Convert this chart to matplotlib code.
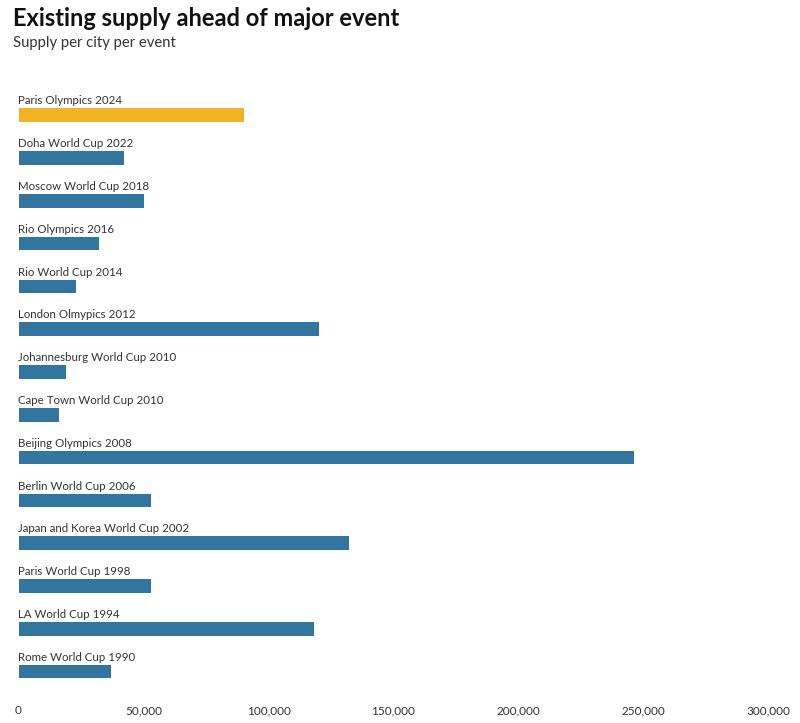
import matplotlib
matplotlib.use("Agg")
import matplotlib.pyplot as plt
from matplotlib.ticker import FuncFormatter

plt.rcParams['font.family'] = ['Lato', 'DejaVu Sans']

events = ["Paris Olympics 2024", "Doha World Cup 2022", "Moscow World Cup 2018",
          "Rio Olympics 2016", "Rio World Cup 2014", "London Olmypics 2012",
          "Johannesburg World Cup 2010", "Cape Town World Cup 2010",
          "Beijing Olympics 2008", "Berlin World Cup 2006",
          "Japan and Korea World Cup 2002", "Paris World Cup 1998",
          "LA World Cup 1994", "Rome World Cup 1990"]
supply = [90000, 42000, 50000, 32000, 23000, 120000, 19000, 16000,
          246000, 53000, 132000, 53000, 118000, 37000]
highlight = "Paris Olympics 2024"
xticks = [0, 50000, 100000, 150000, 200000, 250000, 300000]

W, H = 800, 723
fig = plt.figure(figsize=(W/100, H/100), dpi=100)
ax = fig.add_axes([18.5/W, (H-690)/H, 750/W, 600/H])

colors = ["#F0B323" if e == highlight else "#32769F" for e in events]
ypos = list(range(len(events)))
bh = 0.315
ax.barh(ypos, supply, height=bh, color=colors)
for y, e in zip(ypos, events):
    ax.text(0, y - bh/2 - 0.05, e, ha='left', va='bottom', fontsize=8.3, color='#333333')

ax.set_xlim(0, 300000)
ax.set_ylim(13.43, -0.589)
ax.set_xticks(xticks)
ax.xaxis.set_major_formatter(FuncFormatter(lambda v, p: f"{int(v):,}"))
ax.set_yticks([])
ax.tick_params(axis='x', length=0, pad=11, labelsize=8.5, labelcolor='#333333')
for s in ax.spines.values():
    s.set_visible(False)

fig.text(13/W, 1 - 19/H, "Existing supply ahead of major event", fontsize=17,
         fontweight='bold', color='#111111', va='center', ha='left')
fig.text(13/W, 1 - 43/H, "Supply per city per event", fontsize=10.7,
         color='#333333', va='center', ha='left')

fig.savefig("out.png", dpi=100)
